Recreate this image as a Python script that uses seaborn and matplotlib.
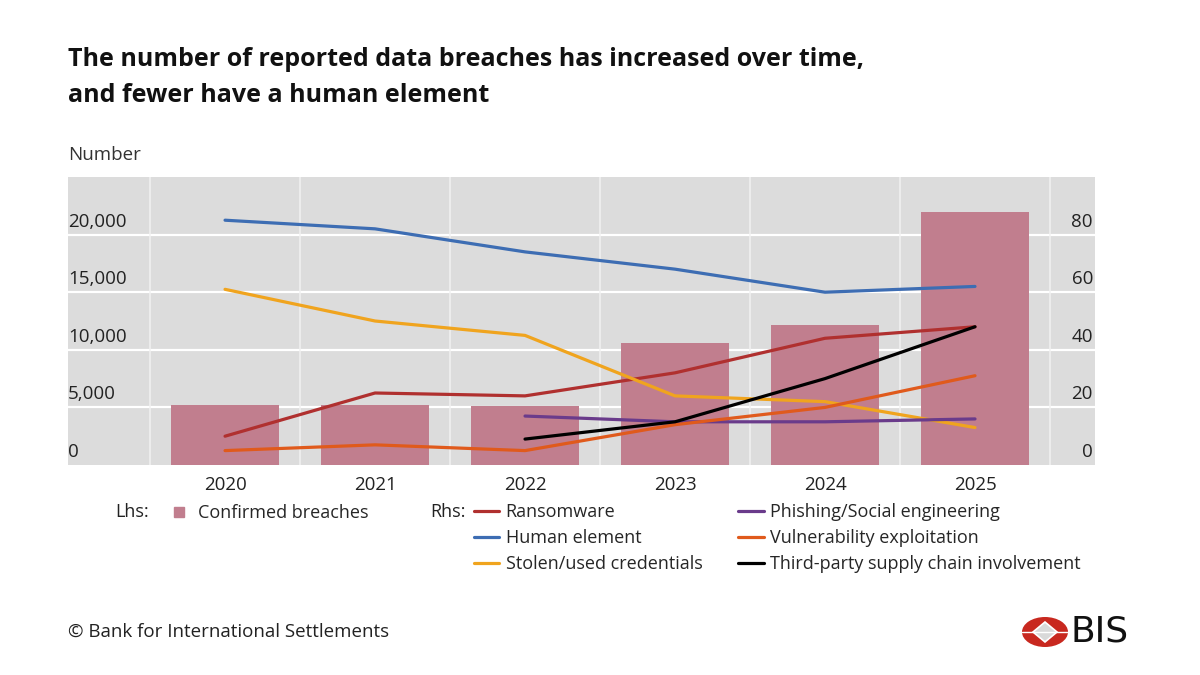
import numpy as np
import pandas as pd
import matplotlib.pyplot as plt
import seaborn as sns
from matplotlib.lines import Line2D
from matplotlib.patches import Ellipse, Polygon

sns.set_style("white")
plt.rcParams['font.family'] = ['Open Sans', 'DejaVu Sans']

# data
years = [2020, 2021, 2022, 2023, 2024, 2025]
breaches = [5250, 5200, 5150, 10600, 12150, 21950]

ransomware = [10, 25, 24, 32, 44, 48]
human = [85, 82, 74, 68, 60, 62]
credentials = [61, 50, 45, 24, 22, 13]
phishing_years = [2022, 2023, 2024, 2025]
phishing = [17, 15, 15, 16]
vuln = [5, 7, 5, 14, 20, 31]
thirdparty_years = [2022, 2023, 2024, 2025]
thirdparty = [9, 15, 30, 48]

bar_col = "#c17e8e"
cols = {
    "Ransomware": "#b0302f",
    "Human element": "#3d6db3",
    "Stolen/used credentials": "#f0a41e",
    "Phishing/Social engineering": "#6a3b8b",
    "Vulnerability exploitation": "#e05a1c",
    "Third-party supply chain involvement": "#000000",
}

series = [
    ("Ransomware", years, ransomware),
    ("Human element", years, human),
    ("Stolen/used credentials", years, credentials),
    ("Phishing/Social engineering", phishing_years, phishing),
    ("Vulnerability exploitation", years, vuln),
    ("Third-party supply chain involvement", thirdparty_years, thirdparty),
]

W, H = 1200, 675
def fx(x):
    return x / W
def fy(y):
    return 1 - y / H

fs = 13.5
lfs = 13

fig = plt.figure(figsize=(12, 6.75), dpi=100)
ax = fig.add_axes([fx(68), fy(465), fx(1095) - fx(68), fy(177) - fy(465)])
ax.set_facecolor("#dcdcdc")

sns.barplot(x=years, y=breaches, native_scale=True, color=bar_col,
            saturation=1, width=0.72, ax=ax, zorder=2, linewidth=0, edgecolor="none")

ax.set_xlim(2018.953, 2025.8)
ax.set_ylim(0, 25000)

# grid
for v in [5000, 10000, 15000, 20000]:
    ax.axhline(v, color="white", lw=1.6, zorder=1)
bounds = [y - 0.5 for y in years] + [years[-1] + 0.5]
for b in bounds:
    ax.axvline(b, color="#f2f2f2", lw=1.1, zorder=1)

ax.set_xticks(years)
ax.set_xticklabels([str(y) for y in years], fontsize=fs, color="#222222")
ax.set_xticks(bounds, minor=True)
ax.tick_params(axis="x", which="major", length=0, pad=8)
ax.tick_params(axis="x", which="minor", direction="in", length=11,
               width=1.6, color="#222222")
ax.set_yticks([])
ax.set_xlabel("")
ax.set_ylabel("")
for s in ax.spines.values():
    s.set_visible(False)

for v in [0, 5000, 10000, 15000, 20000]:
    ax.text(0.0, v + 350, f"{v:,}", transform=ax.get_yaxis_transform(),
            ha="left", va="bottom", fontsize=fs, color="#222222")

ax2 = ax.twinx()
ax2.set_ylim(0, 100)
for name, xs, ys in series:
    sns.lineplot(x=xs, y=ys, color=cols[name], lw=2.3, ax=ax2)
ax2.set_yticks([])
for s in ax2.spines.values():
    s.set_visible(False)
for v in [0, 20, 40, 60, 80]:
    ax2.text(0.998, v + 1.4, str(v), transform=ax2.get_yaxis_transform(),
             ha="right", va="bottom", fontsize=fs, color="#222222")

# titles
fig.text(fx(68), fy(60), "The number of reported data breaches has increased over time,",
         fontsize=18, fontweight="bold", va="center", ha="left", color="#111111")
fig.text(fx(68), fy(96), "and fewer have a human element",
         fontsize=18, fontweight="bold", va="center", ha="left", color="#111111")
fig.text(fx(68), fy(155), "Number", fontsize=fs, va="center", color="#333333")

# legends
fig.text(fx(115), fy(512), "Lhs:", fontsize=lfs, va="center", color="#222222")
fig.text(fx(430), fy(512), "Rhs:", fontsize=lfs, va="center", color="#222222")
lhs = [Line2D([], [], marker="s", ls="none", color=bar_col, markersize=7)]
fig.legend(lhs, ["Confirmed breaches"], loc="center left",
           bbox_to_anchor=(fx(161), fy(513)), frameon=False, fontsize=lfs,
           handletextpad=0.05, borderpad=0, borderaxespad=0)
rhs = [Line2D([], [], color=cols[n], lw=2.3) for n, _, _ in series]
fig.legend(rhs, [n for n, _, _ in series], loc="upper left", ncol=2,
           bbox_to_anchor=(fx(474), fy(503)), frameon=False, fontsize=lfs,
           handlelength=1.4, handletextpad=0.35, columnspacing=2.0,
           labelspacing=0.44, borderpad=0, borderaxespad=0)

# footer
fig.text(fx(68), fy(632), "\u00a9 Bank for International Settlements", fontsize=fs,
         va="center", color="#222222")
fig.patches.append(Ellipse((fx(1045), fy(632)), fx(46), 30 / H, transform=fig.transFigure,
                           facecolor="#c8281f", edgecolor="none"))
fig.lines.append(Line2D([fx(1022), fx(1068)], [fy(632), fy(632)], transform=fig.transFigure,
                        color="white", lw=1.0))
fig.patches.append(Polygon([(fx(1033), fy(632)), (fx(1045), fy(622)), (fx(1057), fy(632)),
                            (fx(1045), fy(642))], closed=True, transform=fig.transFigure,
                           facecolor="#d9d9d9", edgecolor="white", lw=1.2))
fig.text(fx(1071), fy(632), "BIS", fontsize=26, va="center", ha="left",
         family=["Liberation Sans Narrow", "DejaVu Sans"], color="#111111")

fig.savefig("out.png", dpi=100, facecolor="white")
